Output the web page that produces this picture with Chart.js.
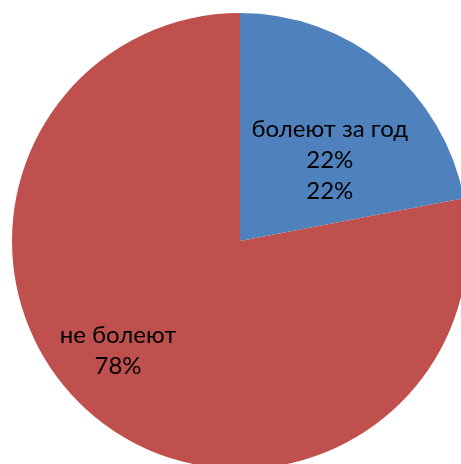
<!DOCTYPE html>
<html>
<head>
<meta charset="utf-8">
<script src="https://cdn.jsdelivr.net/npm/chart.js@4/dist/chart.umd.min.js"></script>
<style>
  html, body { margin: 0; padding: 0; background: #fff; overflow: hidden; }
  #wrap { width: 461px; height: 464px; overflow: hidden; position: relative; }
  #pie { position: absolute; left: 0; top: 0; }
</style>
</head>
<body>
<div id="wrap"><canvas id="pie" width="480" height="482"></canvas></div>
<script>
const categories = ['болеют за год', 'не болеют'];
const shares = [22, 78];
const sliceColors = ['#4F81BD', '#C0504D'];
// label lines as shown on the picture (the first slice shows its percent twice)
const labelLines = [
  ['болеют за год', '22%', '22%'],
  ['не болеют', '78%']
];

// where Excel put each label: angle from the top (deg, clockwise) and share of radius
const labelSpots = [
  { angle: 48, frac: 0.53 },
  { angle: 228, frac: 0.72 }
];

const pieLabels = {
  id: 'pieLabels',
  afterDatasetsDraw(chart) {
    const ctx = chart.ctx;
    const arcs = chart.getDatasetMeta(0).data;
    ctx.save();
    ctx.fillStyle = '#000';
    ctx.font = '24px Lato, "Open Sans", sans-serif';
    ctx.textAlign = 'center';
    ctx.textBaseline = 'middle';
    arcs.forEach((arc, i) => {
      const spot = labelSpots[i];
      const a = spot.angle * Math.PI / 180;
      const r = arc.outerRadius * spot.frac;
      const cx = arc.x + Math.sin(a) * r;
      const cy = arc.y - Math.cos(a) * r;
      const lines = labelLines[i];
      const lh = 31;
      const top = cy - (lines.length - 1) * lh / 2;
      lines.forEach((t, j) => ctx.fillText(t, cx, top + j * lh));
    });
    ctx.restore();
  }
};

const ctx = document.getElementById('pie').getContext('2d');
new Chart(ctx, {
  type: 'pie',
  data: {
    labels: categories,
    datasets: [{
      data: shares,
      backgroundColor: sliceColors,
      borderWidth: 0
    }]
  },
  options: {
    responsive: false,
    animation: false,
    layout: { padding: { left: 12, right: 12, top: 13, bottom: 13 } },
    plugins: {
      legend: { display: false },
      tooltip: { enabled: false }
    }
  },
  plugins: [pieLabels]
});
</script>
</body>
</html>
